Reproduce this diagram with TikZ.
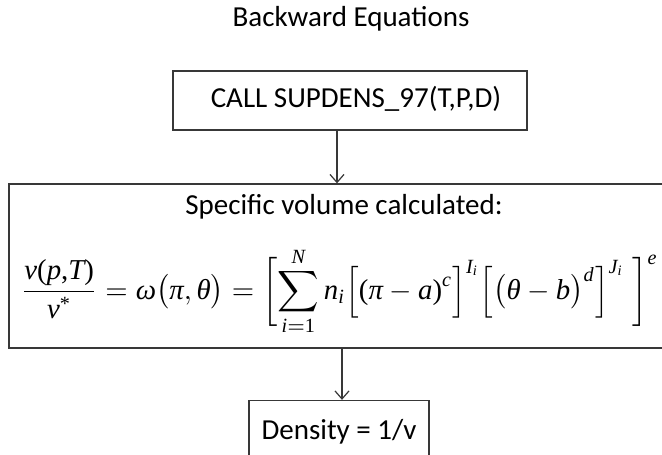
\documentclass[tikz,border=0pt]{standalone}
\usepackage{graphicx}
\usepackage{amsmath}
\usepackage[no-math]{fontspec}
\setmainfont{Carlito}
\newfontfamily\tms{Liberation Serif}
\newcommand\mi[1]{\mathord{\text{\tms\itshape #1}}}
\newcommand\tr[1]{\mathord{\text{\tms #1}}}
\usetikzlibrary{arrows.meta}
\begin{document}
\begin{tikzpicture}[x=1pt,y=-1pt,
  box/.style={draw=black!78, line width=1.3pt, inner sep=0pt},
  lbl/.style={font=\fontsize{29}{34}\selectfont, text=black, inner sep=0pt},
  arr/.style={draw=black!78, line width=1.2pt, -{Straight Barb[length=8pt,width=14pt]}}]
\clip (0,0) rectangle (662,455);
\fill[white] (0,0) rectangle (662,455);
\node[lbl, anchor=base] (title) at (351,26) {Backward Equations};
\node[box, lbl, minimum width=354pt, minimum height=59pt, text height=18.7pt, text depth=4.7pt] (call) at (350,100.5) {\hspace*{12pt}CALL SUPDENS\_97(T,P,D)};
\node[box, minimum width=671pt, minimum height=164pt] (calc) at (344.5,266) {};
\node[lbl, anchor=base] (spec) at (344,214) {Specific volume calculated:};
\node[inner sep=0pt, anchor=base] (eq) at (339.5,299) {\resizebox{637pt}{!}{$\displaystyle
  \frac{\mi{v}\tr{(}\mi{p}\tr{,}\mi{T}\tr{)}}{\mi{v}^{\tr{*}}}
  =\mi{ω}\bigl(\mi{π},\mi{θ}\bigr)
  =\biggl[\sum_{\mi{i}=\tr{1}}^{\mi{N}}\mi{n}_{\mi{i}}\Bigl[\tr{(}\mi{π}-\mi{a}\tr{)}^{\mi{c}}\Bigr]^{\mi{I}_{\mi{i}}}\Bigl[\bigl(\mi{θ}-\mi{b}\bigr)^{\mi{d}}\Bigr]^{\mi{J}_{\mi{i}}}\;\biggr]^{\mi{e}}$}};
\node[box, lbl, minimum width=180pt, minimum height=58.3pt, text height=18.7pt, text depth=0pt] (dens) at (339,429.65) {Density = 1/v};
\coordinate (a1) at (337,0);
\coordinate (a2) at (342,0);
\draw[arr] (a1 |- call.south) -- (a1 |- calc.north);
\draw[arr] (a2 |- calc.south) -- (a2 |- dens.north);
\end{tikzpicture}
\end{document}
